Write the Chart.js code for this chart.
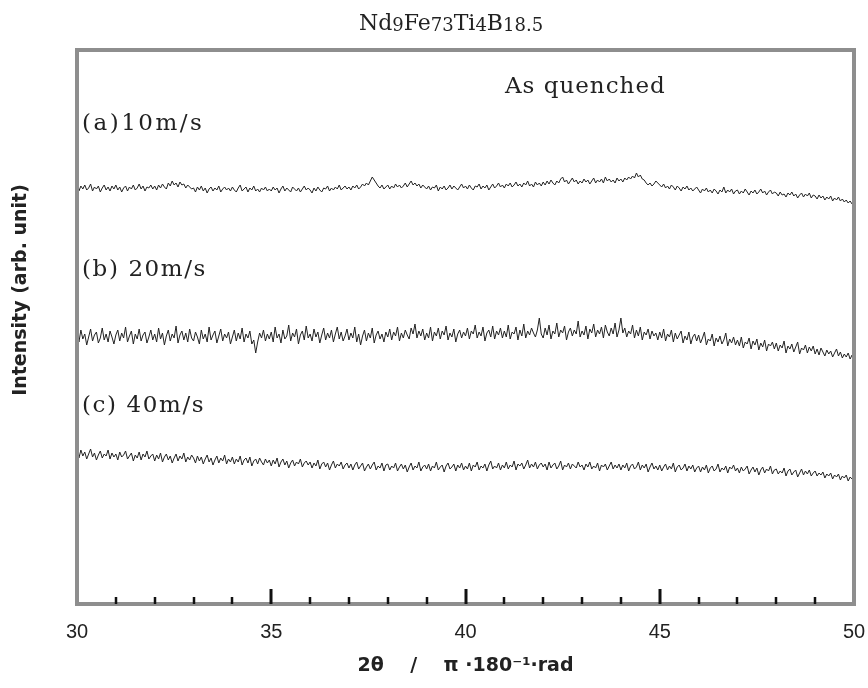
<!DOCTYPE html>
<html>
<head>
<meta charset="utf-8">
<script src="https://cdn.jsdelivr.net/npm/chart.js@4.4.1/dist/chart.umd.min.js"></script>
<style>
  html, body { margin: 0; padding: 0; background: #fff; }
  #wrap { width: 868px; height: 688px; }
</style>
</head>
<body>
<div id="wrap"><canvas id="xrdChart" width="868" height="688"></canvas></div>
<script>
// scan grid: 30 -> 50 deg, 0.05 deg step (one row below = 1 deg)
const startAngle = 30;
const stepAngle = 0.05;
const chartTitle = ['Nd', '9', 'Fe', '73', 'Ti', '4', 'B', '18.5'];
const seriesLabels = ['(a)10m/s', '(b) 20m/s', '(c) 40m/s'];
const conditionLabel = 'As quenched';

// intensity, arb. unit (offset traces)
const trace10 = [
  417, 413, 418, 415, 419, 414, 416, 420, 413, 417, 415, 418, 412, 416, 419, 414, 417, 413, 418, 415,
  419, 414, 417, 412, 416, 418, 413, 417, 415, 419, 414, 416, 420, 415, 418, 413, 417, 416, 419, 415,
  418, 414, 419, 416, 420, 417, 415, 421, 418, 423, 419, 421, 417, 422, 419, 420, 416, 419, 417, 415,
  416, 412, 417, 414, 418, 413, 416, 411, 415, 417, 413, 416, 414, 418, 412, 415, 417, 414, 416, 413,
  417, 414, 412, 416, 419, 413, 415, 417, 412, 416, 414, 418, 413, 415, 412, 416, 414, 417, 413, 415,
  413, 417, 414, 416, 411, 415, 418, 413, 416, 414, 412, 417, 415, 413, 416, 412, 415, 418, 414, 416,
  414, 411, 416, 413, 417, 414, 412, 416, 415, 418, 413, 416, 414, 417, 415, 419, 414, 416, 418, 415,
  417, 414, 418, 416, 419, 415, 417, 420, 418, 421, 419, 423, 427, 424, 421, 418, 416, 419, 415, 417,
  419, 415, 418, 416, 420, 417, 419, 416, 418, 421, 417, 420, 423, 419, 421, 418, 420, 416, 419, 417,
  415, 418, 414, 417, 416, 419, 413, 417, 415, 418, 414, 416, 419, 415, 418, 416, 414, 417, 420, 416,
  418, 415, 419, 416, 414, 418, 417, 420, 415, 418, 416, 419, 414, 417, 420, 416, 418, 421, 417, 419,
  416, 420, 418, 421, 417, 419, 422, 418, 420, 417, 421, 419, 423, 418, 420, 417, 422, 419, 421, 418,
  422, 419, 423, 420, 424, 421, 419, 423, 421, 425, 427, 422, 424, 420, 423, 426, 422, 424, 420, 423,
  421, 425, 422, 424, 420, 423, 426, 421, 424, 422, 425, 421, 427, 423, 425, 422, 424, 421, 426, 423,
  425, 422, 426, 424, 427, 425, 428, 426, 431, 427, 429, 425, 424, 421, 419, 421, 418, 420, 423, 421,
  419, 417, 420, 416, 418, 415, 419, 417, 414, 418, 416, 413, 417, 415, 418, 414, 416, 413, 415, 417,
  414, 411, 415, 413, 416, 412, 414, 411, 415, 413, 410, 414, 412, 417, 411, 414, 412, 415, 410, 413,
  414, 410, 413, 411, 415, 412, 409, 413, 411, 414, 410, 412, 415, 411, 413, 409, 412, 414, 410, 412,
  411, 408, 412, 409, 410, 407, 411, 409, 412, 408, 410, 406, 409, 411, 407, 410, 408, 411, 406, 409,
  408, 405, 409, 406, 408, 404, 407, 405, 408, 403, 406, 404, 407, 403, 405, 402, 404, 401, 403, 400,
  402
];
const trace20 = [
  271, 262, 274, 265, 270, 259, 267, 275, 263, 269, 272, 261, 266, 276, 264, 270, 262, 273, 267, 260,
  269, 274, 263, 271, 266, 277, 262, 268, 273, 260, 270, 265, 275, 263, 269, 272, 261, 267, 274, 264,
  270, 262, 276, 265, 271, 259, 268, 274, 263, 270, 266, 278, 261, 269, 273, 264, 271, 262, 275, 266,
  263, 272, 267, 260, 274, 265, 270, 262, 277, 264, 269, 273, 261, 268, 275, 263, 270, 266, 272, 260,
  267, 274, 263, 271, 265, 276, 262, 270, 266, 273, 260, 264, 251, 262, 271, 266, 274, 263, 270, 265,
  272, 262, 277, 266, 270, 261, 274, 265, 268, 279, 263, 271, 267, 275, 260, 269, 273, 264, 278, 266,
  270, 263, 275, 267, 272, 261, 269, 276, 264, 271, 266, 274, 262, 270, 277, 265, 272, 263, 268, 275,
  264, 271, 266, 277, 262, 270, 259, 268, 274, 263, 271, 266, 276, 261, 269, 273, 265, 270, 262, 272,
  267, 275, 264, 272, 268, 277, 263, 271, 266, 274, 269, 265, 276, 270, 280, 266, 273, 268, 275, 264,
  271, 266, 277, 263, 272, 268, 276, 265, 273, 269, 278, 264, 271, 267, 275, 262, 270, 274, 266, 272,
  268, 276, 265, 273, 270, 279, 266, 272, 268, 277, 263, 271, 274, 267, 278, 265, 273, 269, 276, 266,
  273, 267, 279, 265, 272, 270, 277, 264, 274, 268, 280, 266, 273, 269, 276, 271, 267, 274, 286, 270,
  266, 276, 269, 279, 265, 273, 270, 281, 267, 274, 271, 278, 264, 272, 276, 268, 274, 270, 283, 267,
  273, 269, 278, 265, 275, 271, 280, 267, 274, 270, 277, 266, 279, 272, 268, 276, 270, 281, 267, 274,
  286, 271, 276, 267, 273, 270, 279, 266, 274, 268, 277, 264, 272, 269, 275, 265, 273, 268, 271, 264,
  272, 266, 275, 263, 270, 267, 274, 262, 271, 265, 269, 273, 261, 268, 264, 272, 260, 267, 270, 263,
  269, 261, 266, 272, 259, 265, 263, 270, 258, 266, 262, 268, 260, 264, 271, 258, 265, 261, 267, 259,
  264, 258, 267, 256, 262, 260, 266, 255, 263, 259, 265, 254, 261, 257, 264, 253, 260, 258, 262, 255,
  261, 253, 259, 256, 263, 251, 258, 255, 260, 252, 257, 262, 250, 256, 254, 259, 251, 257, 253, 258,
  250, 255, 249, 256, 252, 248, 254, 250, 253, 247, 251, 255, 248, 252, 246, 250, 247, 251, 245, 249,
  246
];
const trace40 = [
  151, 146, 154, 148, 152, 145, 150, 155, 147, 151, 144, 149, 153, 146, 150, 148, 154, 145, 151, 147,
  150, 144, 152, 147, 149, 153, 145, 148, 151, 143, 149, 146, 152, 144, 150, 147, 153, 145, 148, 150,
  143, 149, 145, 151, 142, 147, 150, 144, 148, 141, 146, 150, 143, 148, 145, 151, 142, 147, 144, 149,
  146, 141, 148, 143, 147, 140, 145, 149, 142, 146, 139, 144, 148, 141, 146, 143, 149, 140, 145, 142,
  147, 140, 145, 142, 148, 139, 144, 146, 141, 147, 138, 143, 145, 140, 146, 142, 139, 145, 141, 144,
  138, 144, 140, 146, 137, 142, 145, 139, 143, 136, 141, 144, 138, 142, 140, 145, 137, 141, 143, 139,
  142, 136, 141, 138, 144, 135, 140, 142, 137, 141, 134, 139, 143, 136, 140, 138, 142, 135, 139, 141,
  136, 140, 134, 139, 142, 135, 138, 141, 133, 137, 140, 135, 139, 142, 134, 138, 136, 141, 133, 139,
  140, 134, 138, 136, 141, 133, 137, 140, 135, 139, 132, 137, 141, 134, 138, 136, 142, 133, 137, 139,
  135, 140, 133, 138, 136, 142, 134, 137, 139, 132, 138, 141, 135, 137, 140, 133, 139, 136, 141, 134,
  138, 135, 141, 133, 139, 137, 142, 134, 138, 136, 140, 133, 139, 143, 135, 138, 136, 141, 134, 139,
  136, 142, 135, 139, 137, 143, 134, 140, 138, 141, 135, 139, 144, 136, 140, 137, 142, 135, 139, 141,
  137, 140, 134, 142, 136, 139, 141, 135, 138, 143, 134, 139, 137, 141, 135, 140, 138, 136, 142, 137,
  139, 134, 140, 137, 142, 135, 138, 136, 141, 133, 139, 137, 140, 134, 138, 142, 135, 139, 136, 140,
  134, 139, 136, 141, 133, 138, 140, 135, 137, 142, 134, 139, 136, 140, 132, 137, 141, 135, 138, 134,
  139, 133, 137, 140, 134, 138, 135, 141, 132, 137, 139, 134, 136, 140, 133, 138, 135, 139, 132, 136,
  138, 132, 137, 134, 139, 131, 136, 138, 133, 135, 140, 132, 136, 134, 138, 131, 137, 135, 139, 133,
  136, 131, 137, 133, 135, 138, 130, 134, 137, 132, 136, 129, 134, 137, 131, 135, 133, 138, 130, 134,
  135, 130, 133, 131, 136, 128, 133, 135, 129, 132, 134, 127, 131, 135, 129, 133, 130, 134, 128, 131,
  133, 128, 131, 129, 132, 126, 130, 128, 131, 125, 129, 127, 130, 124, 128, 126, 129, 123, 127, 125,
  126
];

function toPoints(values) {
  return values.map((v, i) => ({ x: startAngle + i * stepAngle, y: v }));
}

const serifFont = '"DejaVu Serif", "Liberation Serif", serif';
const sansFont = '"DejaVu Sans", "Liberation Sans", sans-serif';

// frame, inward ticks, texts
const decorPlugin = {
  id: 'decor',
  afterDatasetsDraw(chart) {
    const { ctx, chartArea: a, scales: { x } } = chart;
    ctx.save();
    ctx.strokeStyle = '#8e8e8e';
    ctx.lineWidth = 4;
    ctx.strokeRect(a.left, a.top, a.right - a.left, a.bottom - a.top);
    ctx.strokeStyle = '#111';
    for (let d = 31; d <= 49; d++) {
      const px = Math.round(x.getPixelForValue(d));
      const major = d % 5 === 0;
      ctx.lineWidth = major ? 3 : 2.5;
      ctx.beginPath();
      ctx.moveTo(px, a.bottom);
      ctx.lineTo(px, a.bottom - (major ? 15 : 7));
      ctx.stroke();
    }
    ctx.restore();
  },
  afterDraw(chart) {
    const { ctx } = chart;
    ctx.save();
    ctx.fillStyle = '#222';
    ctx.textBaseline = 'alphabetic';
    // title, element symbols large and amounts small
    const bigF = '22px ' + serifFont, smallF = '18px ' + serifFont;
    let total = 0;
    chartTitle.forEach((s, i) => { ctx.font = i % 2 ? smallF : bigF; total += ctx.measureText(s).width; });
    let tx = 451 - total / 2;
    chartTitle.forEach((s, i) => {
      ctx.font = i % 2 ? smallF : bigF;
      ctx.fillText(s, tx, i % 2 ? 31 : 30);
      tx += ctx.measureText(s).width;
    });
    // labels inside the plot
    ctx.font = '23px ' + serifFont;
    ctx.textBaseline = 'middle';
    ctx.letterSpacing = '1px';
    ctx.fillText(conditionLabel, 505, 87);
    ctx.letterSpacing = '2.5px';
    ctx.fillText(seriesLabels[0], 82, 124);
    ctx.letterSpacing = '1.6px';
    ctx.fillText(seriesLabels[1], 82, 270);
    ctx.fillText(seriesLabels[2], 82, 406);
    ctx.letterSpacing = '0px';
    // y axis title
    ctx.font = 'bold 19px ' + sansFont;
    ctx.textAlign = 'center';
    ctx.translate(21, 290);
    ctx.rotate(-Math.PI / 2);
    ctx.fillText('Intensity (arb. unit)', 0, 0);
    ctx.restore();
  }
};

new Chart(document.getElementById('xrdChart'), {
  type: 'line',
  data: {
    datasets: [
      { label: seriesLabels[0], data: toPoints(trace10), borderColor: '#222', backgroundColor: '#222' },
      { label: seriesLabels[1], data: toPoints(trace20), borderColor: '#222', backgroundColor: '#222' },
      { label: seriesLabels[2], data: toPoints(trace40), borderColor: '#222', backgroundColor: '#222' }
    ]
  },
  options: {
    responsive: false,
    animation: false,
    devicePixelRatio: 1,
    layout: { padding: { left: 77, right: 14, top: 50, bottom: 0 } },
    datasets: {
      line: { borderWidth: 1, pointRadius: 0, tension: 0, fill: false }
    },
    scales: {
      x: {
        type: 'linear',
        min: 30,
        max: 50,
        grid: { display: false, drawTicks: false },
        border: { display: false },
        ticks: { stepSize: 5, padding: 16, color: '#222', font: { family: '"Liberation Sans", Arial, sans-serif', size: 20 } },
        title: {
          display: true,
          text: '2\u03B8    /    \u03C0 \u00B7180\u207B\u00B9\u00B7rad',
          color: '#222',
          font: { family: sansFont, size: 19, weight: 'bold' },
          padding: { top: 0, bottom: 11 }
        },
        afterFit(scale) {
          scale.height = 84;
          scale.paddingLeft = 0;
          scale.paddingRight = 0;
        }
      },
      y: {
        display: false,
        min: 0,
        max: 554
      }
    },
    plugins: {
      legend: { display: false },
      title: { display: false },
      tooltip: { enabled: false }
    }
  },
  plugins: [decorPlugin]
});
</script>
</body>
</html>
